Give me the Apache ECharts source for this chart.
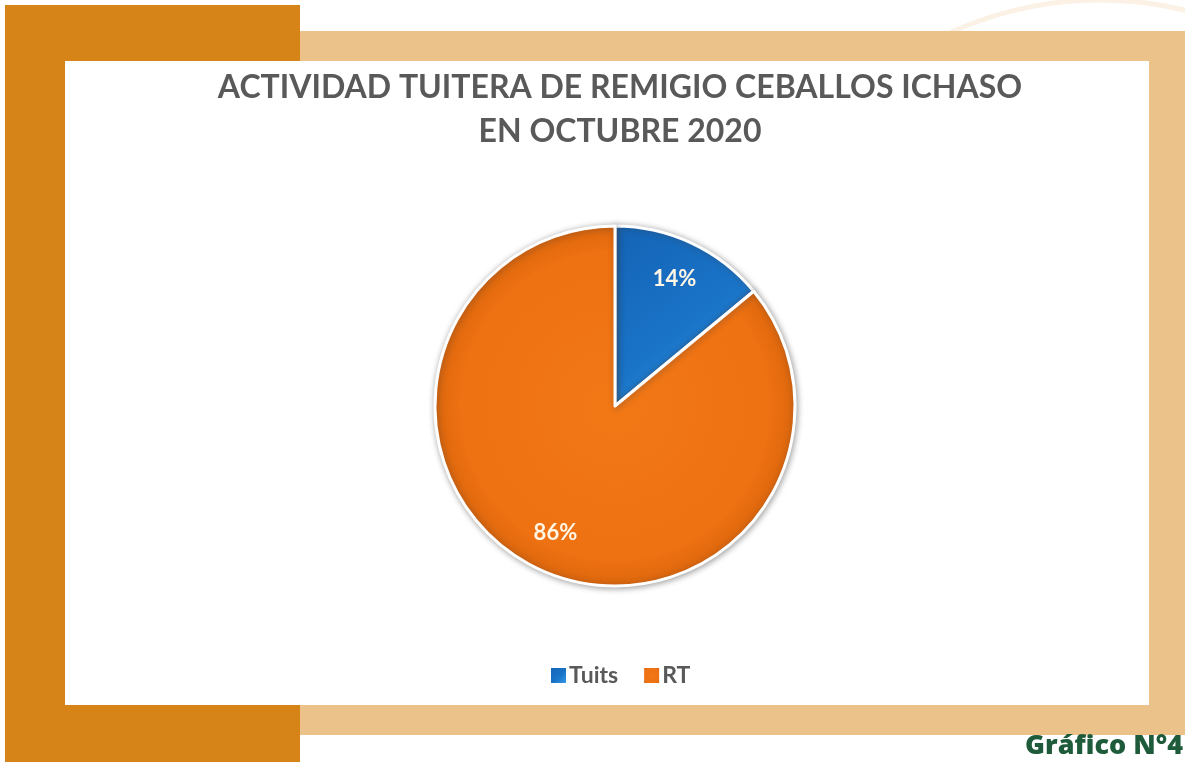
<!DOCTYPE html>
<html>
<head>
<meta charset="utf-8">
<script src="https://cdn.jsdelivr.net/npm/echarts@6/dist/echarts.min.js"></script>
<style>
  html, body { margin: 0; padding: 0; background: #fff; }
  #chart { width: 1185px; height: 762px; }
</style>
</head>
<body>
<div id="chart"></div>
<script>
const categories = ["Tuits", "RT"];
const values = [14, 86];
const titleLines = ["ACTIVIDAD TUITERA DE REMIGIO CEBALLOS ICHASO", "EN OCTUBRE 2020"];
const footerText = "Gráfico N°4";

const sliceColors = [
  new echarts.graphic.LinearGradient(0, 0, 1, 1, [
    { offset: 0, color: "#1463b5" },
    { offset: 0.55, color: "#1a74c8" },
    { offset: 1, color: "#3ea4f0" },
  ]),
  new echarts.graphic.RadialGradient(0.5, 0.5, 0.5, [
    { offset: 0, color: "#f27816" },
    { offset: 0.85, color: "#ee7112" },
    { offset: 1, color: "#dc660c" },
  ]),
];

const data = categories.map((name, i) => ({
  name,
  value: values[i],
  itemStyle: { color: sliceColors[i] },
}));

const chart = echarts.init(document.getElementById("chart"));

chart.setOption({
  animation: false,
  graphic: [
    // faint decorative arc top right
    { type: "circle", shape: { cx: 1100, cy: 360, r: 360 }, z: -10,
      style: { fill: "none", stroke: "#fbf1e4", lineWidth: 5 } },
    // light frame
    { type: "rect", shape: { x: 300, y: 31, width: 885, height: 704 }, z: -5,
      style: { fill: "#eac28a" } },
    // dark frame
    { type: "rect", shape: { x: 5, y: 5, width: 295, height: 757 }, z: -4,
      style: { fill: "#d68417" } },
    // white panel
    { type: "rect", shape: { x: 65, y: 61, width: 1084, height: 644 }, z: -3,
      style: { fill: "#ffffff" } },
    {
      type: "text", right: 2, top: 733, z: 5,
      style: { text: footerText, fill: "#1e5b3a", font: "800 27px 'Open Sans', sans-serif" },
    },
  ],
  title: {
    text: titleLines.join("\n"),
    left: 615,
    textAlign: "center",
    top: 61,
    textStyle: {
      color: "#595959",
      fontFamily: "Lato",
      fontWeight: "bold",
      fontSize: 32,
      lineHeight: 44,
    },
  },
  legend: {
    data: categories,
    bottom: 70,
    left: 544,
    icon: "rect",
    itemWidth: 17,
    itemHeight: 17,
    itemGap: 24,
    textStyle: { color: "#595959", fontSize: 23, fontWeight: "bold", fontFamily: "Lato", padding: [0, 0, 0, -3] },
  },
  series: [
    {
      type: "pie",
      center: [615, 406],
      radius: 180,
      startAngle: 90,
      clockwise: true,
      silent: true,
      data,
      label: { show: false },
      labelLine: { show: false },
      itemStyle: {
        borderColor: "#ffffff",
        borderWidth: 3,
        shadowBlur: 6,
        shadowColor: "rgba(60,60,60,0.45)",
        shadowOffsetX: 1,
        shadowOffsetY: 1,
      },
    },
    {
      type: "pie",
      center: [615, 406],
      radius: [94, 180],
      startAngle: 90,
      clockwise: true,
      silent: true,
      legendHoverLink: false,
      data: categories.map((name, i) => ({ name, value: values[i] })),
      itemStyle: { color: "rgba(0,0,0,0)" },
      label: {
        show: true,
        position: "inside",
        formatter: "{d}%",
        color: "#fff6e6",
        fontFamily: "Lato",
        fontWeight: "bold",
        fontSize: 22,
      },
      labelLine: { show: false },
    },
  ],
});
</script>
</body>
</html>
